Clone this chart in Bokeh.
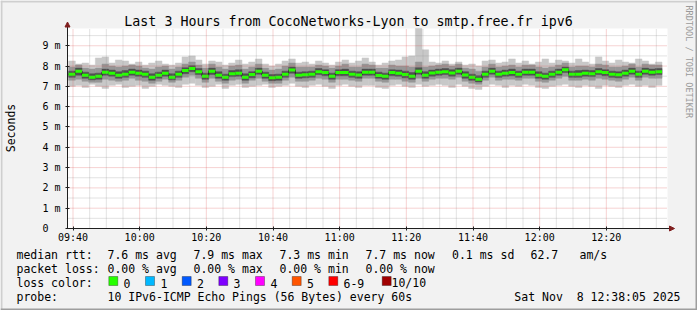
from math import pi
from bokeh.plotting import figure
from bokeh.models import Range1d, FixedTicker, Label, BoxAnnotation, Arrow, NormalHead
from bokeh.embed import file_html
from bokeh.resources import INLINE

# ---------------- data (ms) ----------------
first_minute = 578.7   # minutes after midnight of first column (09:38:42)
step_minutes = 2.0

median_ms = [7.60, 7.75, 7.55, 7.45, 7.50, 7.70, 7.65, 7.55, 7.60, 7.70, 7.65, 7.60, 7.45, 7.55, 7.65,
             7.45, 7.60, 7.78, 7.88, 7.72, 7.50, 7.75, 7.55, 7.45, 7.62, 7.65, 7.45, 7.58, 7.75, 7.55,
             7.42, 7.45, 7.60, 7.80, 7.55, 7.57, 7.60, 7.72, 7.68, 7.50, 7.68, 7.68, 7.60, 7.56, 7.70,
             7.70, 7.54, 7.50, 7.68, 7.65, 7.58, 7.50, 7.75, 7.55, 7.66, 7.70, 7.72, 7.66, 7.75, 7.56,
             7.45, 7.35, 7.60, 7.75, 7.60, 7.65, 7.68, 7.60, 7.70, 7.70, 7.55, 7.50, 7.60, 7.70, 7.82,
             7.60, 7.60, 7.65, 7.62, 7.72, 7.68, 7.60, 7.57, 7.65, 7.75, 7.60, 7.75, 7.70, 7.72]

min_ms = [7.00, 7.05, 6.95, 7.10, 7.00, 6.90, 7.05, 7.10, 6.95, 7.00, 7.05, 6.90, 7.00, 7.10, 7.05,
          7.00, 6.95, 7.10, 7.15, 7.05, 6.95, 7.00, 7.10, 6.90, 7.05, 7.10, 6.95, 7.00, 7.05, 7.10,
          6.95, 7.00, 7.05, 7.15, 7.00, 6.95, 7.05, 7.10, 7.00, 6.90, 7.05, 7.10, 7.00, 6.95, 7.05,
          7.05, 6.95, 6.90, 7.05, 7.10, 7.00, 6.95, 7.10, 7.00, 7.05, 7.10, 7.05, 6.95, 7.10, 7.00,
          6.90, 6.85, 7.00, 7.10, 7.05, 6.95, 7.05, 7.00, 7.10, 7.05, 6.95, 6.90, 7.00, 7.05, 7.10,
          7.00, 6.95, 7.05, 7.00, 6.90, 7.05, 7.00, 6.95, 7.05, 7.10, 7.00, 7.05, 6.95, 7.05]

low2_ms = [7.30, 7.35, 7.25, 7.20, 7.20, 7.35, 7.30, 7.25, 7.30, 7.40, 7.30, 7.25, 7.15, 7.25, 7.35,
           7.20, 7.30, 7.45, 7.55, 7.40, 7.20, 7.40, 7.25, 7.15, 7.30, 7.35, 7.15, 7.30, 7.40, 7.25,
           7.15, 7.15, 7.30, 7.45, 7.25, 7.25, 7.30, 7.40, 7.35, 7.20, 7.35, 7.35, 7.30, 7.25, 7.40,
           7.40, 7.25, 7.20, 7.35, 7.35, 7.25, 7.20, 7.40, 7.25, 7.35, 7.40, 7.40, 7.35, 7.45, 7.25,
           7.15, 7.10, 7.30, 7.45, 7.30, 7.35, 7.35, 7.30, 7.40, 7.40, 7.25, 7.20, 7.30, 7.40, 7.50,
           7.30, 7.30, 7.35, 7.30, 7.40, 7.35, 7.30, 7.25, 7.35, 7.45, 7.30, 7.45, 7.40, 7.40]

low3_ms = [7.45, 7.55, 7.40, 7.32, 7.35, 7.55, 7.50, 7.40, 7.45, 7.55, 7.50, 7.45, 7.30, 7.40, 7.50,
           7.32, 7.45, 7.62, 7.72, 7.58, 7.35, 7.58, 7.40, 7.30, 7.48, 7.50, 7.30, 7.42, 7.60, 7.40,
           7.28, 7.30, 7.45, 7.65, 7.40, 7.42, 7.45, 7.58, 7.52, 7.35, 7.52, 7.52, 7.45, 7.40, 7.55,
           7.55, 7.40, 7.35, 7.52, 7.50, 7.42, 7.35, 7.60, 7.40, 7.50, 7.55, 7.58, 7.50, 7.60, 7.40,
           7.30, 7.22, 7.45, 7.60, 7.45, 7.50, 7.52, 7.45, 7.55, 7.55, 7.40, 7.35, 7.45, 7.55, 7.68,
           7.45, 7.45, 7.50, 7.48, 7.58, 7.52, 7.45, 7.42, 7.50, 7.60, 7.45, 7.60, 7.55, 7.58]

high3_ms = [7.75, 7.90, 7.70, 7.62, 7.65, 7.85, 7.80, 7.72, 7.78, 7.85, 7.80, 7.75, 7.62, 7.70, 7.80,
            7.62, 7.75, 7.92, 8.02, 7.88, 7.65, 7.90, 7.72, 7.60, 7.78, 7.82, 7.62, 7.72, 7.90, 7.70,
            7.58, 7.60, 7.75, 7.95, 7.70, 7.72, 7.75, 7.88, 7.82, 7.65, 7.82, 7.85, 7.75, 7.72, 7.85,
            7.85, 7.70, 7.65, 7.82, 7.80, 7.75, 7.68, 7.92, 7.72, 7.80, 7.85, 7.88, 7.82, 7.90, 7.72,
            7.60, 7.52, 7.75, 7.90, 7.75, 7.80, 7.85, 7.75, 7.85, 7.85, 7.72, 7.65, 7.75, 7.85, 7.95,
            7.75, 7.78, 7.80, 7.78, 7.88, 7.82, 7.75, 7.72, 7.80, 7.90, 7.75, 7.90, 7.85, 7.88]

high2_ms = [7.95, 8.05, 7.90, 7.85, 7.90, 8.10, 8.00, 7.95, 8.00, 8.05, 8.00, 7.90, 7.85, 7.95, 8.00,
            7.85, 7.95, 8.10, 8.20, 8.05, 7.90, 8.10, 7.95, 7.85, 8.00, 8.05, 7.85, 7.95, 8.10, 7.90,
            7.80, 7.85, 8.00, 8.15, 7.95, 7.95, 7.95, 8.05, 8.00, 7.90, 8.00, 8.10, 7.95, 7.95, 8.10,
            8.05, 7.90, 7.90, 8.05, 8.00, 8.00, 7.95, 8.20, 7.95, 8.00, 8.05, 8.10, 8.00, 8.10, 7.90,
            7.85, 7.75, 7.95, 8.10, 7.95, 8.00, 8.05, 7.95, 8.05, 8.05, 7.95, 7.90, 7.95, 8.05, 8.15,
            7.95, 8.00, 8.00, 7.95, 8.10, 8.05, 7.95, 7.95, 8.00, 8.10, 7.95, 8.10, 8.05, 8.05]

max_ms = [8.25, 8.10, 8.15, 8.05, 8.40, 8.45, 8.15, 8.30, 8.25, 8.10, 8.20, 8.05, 8.15, 8.25, 8.10,
          8.05, 8.15, 8.45, 8.50, 8.30, 8.10, 8.25, 8.20, 8.05, 8.15, 8.30, 8.10, 8.20, 8.35, 8.10,
          8.00, 8.10, 8.25, 8.35, 8.15, 8.20, 8.10, 8.25, 8.15, 8.05, 8.20, 8.30, 8.15, 8.25, 8.40,
          8.20, 8.05, 8.15, 8.25, 8.30, 8.45, 8.50, 9.85, 8.80, 8.20, 8.15, 8.25, 8.10, 8.20, 8.05,
          8.10, 8.00, 8.25, 8.30, 8.15, 8.20, 8.35, 8.15, 8.25, 8.10, 8.20, 8.35, 8.15, 8.30, 8.25,
          8.15, 8.35, 8.20, 8.10, 8.45, 8.25, 8.15, 8.30, 8.20, 8.15, 8.35, 8.25, 8.10, 8.20]

x_ticks = [580, 600, 620, 640, 660, 680, 700, 720, 740]
x_tick_labels = ["09:40", "10:00", "10:20", "10:40", "11:00", "11:20", "11:40", "12:00", "12:20"]
y_ticks = [0, 1, 2, 3, 4, 5, 6, 7, 8, 9]
y_tick_labels = ["0\u00a0\u00a0", "1 m", "2 m", "3 m", "4 m", "5 m", "6 m", "7 m", "8 m", "9 m"]

loss_labels = ["0", "1", "2", "3", "4", "5", "6-9", "10/10"]
loss_colors = ["#26ff00", "#00b8ff", "#0059ff", "#7e00ff", "#ff00ff", "#ff5500", "#ff0000", "#a00000"]

legend_rtt = ["7.6 ms avg", "7.9 ms max", "7.3 ms min", "7.7 ms now", "0.1 ms sd", "62.7", "am/s"]
legend_loss = ["0.00 % avg", "0.00 % max", "0.00 % min", "0.00 % now"]

# ---------------- geometry ----------------
W, H = 697, 310
GL, GB = 67, 228          # graph canvas left / bottom (canvas pixels)
X0 = 578.35               # minutes at graph left edge
X1 = X0 + 180.0
Y_TOP = 9.85
PXM = 600.0 / 180.0
PYM = 200.0 / Y_TOP
TXT_DY = 3.5              # baseline correction for labels


def sx(px):
    return px


def sy(py):
    return H - py


MONO = "DejaVu Sans Mono"

p = figure(width=W, height=H, output_backend="svg", toolbar_location=None,
           x_range=Range1d(X0 - GL / PXM, X0 + (W - GL) / PXM),
           y_range=Range1d(-(H - GB) / PYM, GB / PYM),
           min_border=0, min_border_left=0, min_border_right=0,
           min_border_top=0, min_border_bottom=0,
           background_fill_color="#f2f2f2", border_fill_color="#f2f2f2",
           outline_line_color=None)
p.xgrid.visible = False
p.ygrid.visible = False

# white graph canvas
p.add_layout(BoxAnnotation(left=X0, right=X1, bottom=0, top=Y_TOP, fill_color="white",
                           fill_alpha=1.0, line_color=None, level="underlay"))

times = [first_minute + i * step_minutes for i in range(len(median_ms))]
rights = [t + step_minutes for t in times]

# smoke
for lo, hi, col in [(min_ms, max_ms, "#c8c8c8"), (low2_ms, high2_ms, "#969696"),
                    (low3_ms, high3_ms, "#505050")]:
    p.quad(left=times, right=rights, bottom=lo, top=hi, fill_color=col,
           line_color=col, line_width=0.5)

# median: dark step line + green loss-colour blocks
p.step(x=times + [rights[-1]], y=median_ms + [median_ms[-1]], mode="after",
       line_color="#202020", line_width=1)
p.segment(x0=times, x1=rights, y0=median_ms, y1=median_ms, line_color=loss_colors[0],
          line_width=3, line_cap="butt")

# grid (dotted, on top)
minor_x = [m for m in range(580, 760, 5) if m % 20 != 0]
minor_y = [v + 0.5 for v in range(0, 10)]
major_y = [v for v in y_ticks if v > 0]
p.segment(x0=minor_x, x1=minor_x, y0=[0] * len(minor_x), y1=[Y_TOP] * len(minor_x),
          line_color="#8f8f8f", line_alpha=0.5, line_dash="1 1", line_width=1)
p.segment(x0=[X0] * len(minor_y), x1=[X1] * len(minor_y), y0=minor_y, y1=minor_y,
          line_color="#8f8f8f", line_alpha=0.5, line_dash="1 1", line_width=1)
p.segment(x0=x_ticks, x1=x_ticks, y0=[0] * len(x_ticks), y1=[Y_TOP] * len(x_ticks),
          line_color="#de4f4f", line_alpha=0.5, line_dash="1 1", line_width=1)
p.segment(x0=[X0] * len(major_y), x1=[X1] * len(major_y), y0=major_y, y1=major_y,
          line_color="#de4f4f", line_alpha=0.5, line_dash="1 1", line_width=1)

# axes, drawn at the graph origin
for ax in (p.xaxis[0], p.yaxis[0]):
    ax.axis_line_color = "#1f1f1f"
    ax.major_tick_line_color = "#1f1f1f"
    ax.minor_tick_line_color = None
    ax.major_tick_in = 2
    ax.major_tick_out = 2
    ax.major_label_text_font = MONO
    ax.major_label_text_font_size = "10px"
    ax.major_label_text_color = "black"
p.xaxis.fixed_location = 0
p.yaxis.fixed_location = X0
p.xaxis.ticker = FixedTicker(ticks=x_ticks)
p.xaxis.major_label_overrides = {t: l for t, l in zip(x_ticks, x_tick_labels)}
p.xaxis.bounds = (X0, X1 + 1.0)
p.xaxis.major_label_standoff = 1
p.yaxis.ticker = FixedTicker(ticks=y_ticks)
p.yaxis.major_label_overrides = {t: l for t, l in zip(y_ticks, y_tick_labels)}
p.yaxis.bounds = (0, Y_TOP + 0.1)
p.yaxis.major_label_standoff = 5

# arrows
p.add_layout(Arrow(end=NormalHead(size=5, fill_color="#801f1f", line_color="#801f1f"),
                   x_start=X0, y_start=Y_TOP + 0.1, x_end=X0, y_end=(GB - 21.5) / PYM,
                   line_color="#801f1f", line_width=1))
p.add_layout(Arrow(end=NormalHead(size=5, fill_color="#801f1f", line_color="#801f1f"),
                   x_start=X1 + 1.0, y_start=0, x_end=X0 + (674 - GL) / PXM, y_end=0,
                   line_color="#801f1f", line_width=1))


def lab(text, px, py, size="11.5px", align="left", baseline="alphabetic", angle=0.0,
        color="black", dy=TXT_DY):
    p.add_layout(Label(x=sx(px), y=sy(py - dy), x_units="screen", y_units="screen", text=text,
                       text_font=MONO, text_font_size=size, text_align=align,
                       text_baseline=baseline, angle=angle, text_color=color))


# title and side texts
lab("Last 3 Hours from CocoNetworks-Lyon to smtp.free.fr ipv6", 348, 24, size="13.3px",
    align="center")
lab("Seconds", 10, 127.5, size="11.5px", align="center", baseline="middle", angle=pi / 2,
    dy=0)
lab("RRDTOOL / TOBI OETIKER", 688, 5, size="8.5px", align="left", baseline="middle",
    angle=-pi / 2, color="#9a9a9a", dy=0)

# legend
rtt_x = [107, 193, 279, 365, 451.5, 530, 579]
lab("median rtt:", 16, 257.5)
for t, x in zip(legend_rtt, rtt_x):
    lab(t, x, 257.5)
lab("packet loss:", 16, 272)
for t, x in zip(legend_loss, rtt_x[:4]):
    lab(t, x, 272)
lab("loss color:", 16, 286)
sq_x = [108.3, 145, 181.7, 218.3, 255, 291.7, 328.3, 381.7]
tx_x = [123, 160, 196.5, 233, 270, 306.5, 343, 391]
for l, c, x, tx in zip(loss_labels, loss_colors, sq_x, tx_x):
    p.add_layout(BoxAnnotation(left=sx(x), right=sx(x + 9), top=sy(276), bottom=sy(285),
                               left_units="screen", right_units="screen",
                               top_units="screen", bottom_units="screen",
                               fill_color=c, fill_alpha=1.0, line_color="black", line_width=1))
    lab(l, tx, 286)
lab("probe:", 16, 300)
lab("10 IPv6-ICMP Echo Pings (56 Bytes) every 60s", 107, 300)
lab("Sat Nov\u00a0\u00a08 12:38:05 2025", 680, 300, align="right")

# 3D border
for (l, r, t, b, c) in [(0, W, 0, 2, "#cfcfcf"), (0, 2, 0, H, "#cfcfcf"),
                        (0, W, H - 2, H, "#9e9e9e"), (W - 2, W, 0, H, "#9e9e9e")]:
    p.add_layout(BoxAnnotation(left=sx(l), right=sx(r), top=sy(t), bottom=sy(b),
                               left_units="screen", right_units="screen",
                               top_units="screen", bottom_units="screen",
                               fill_color=c, fill_alpha=1.0, line_color=None))

open("out.html", "w").write(file_html(p, INLINE))
